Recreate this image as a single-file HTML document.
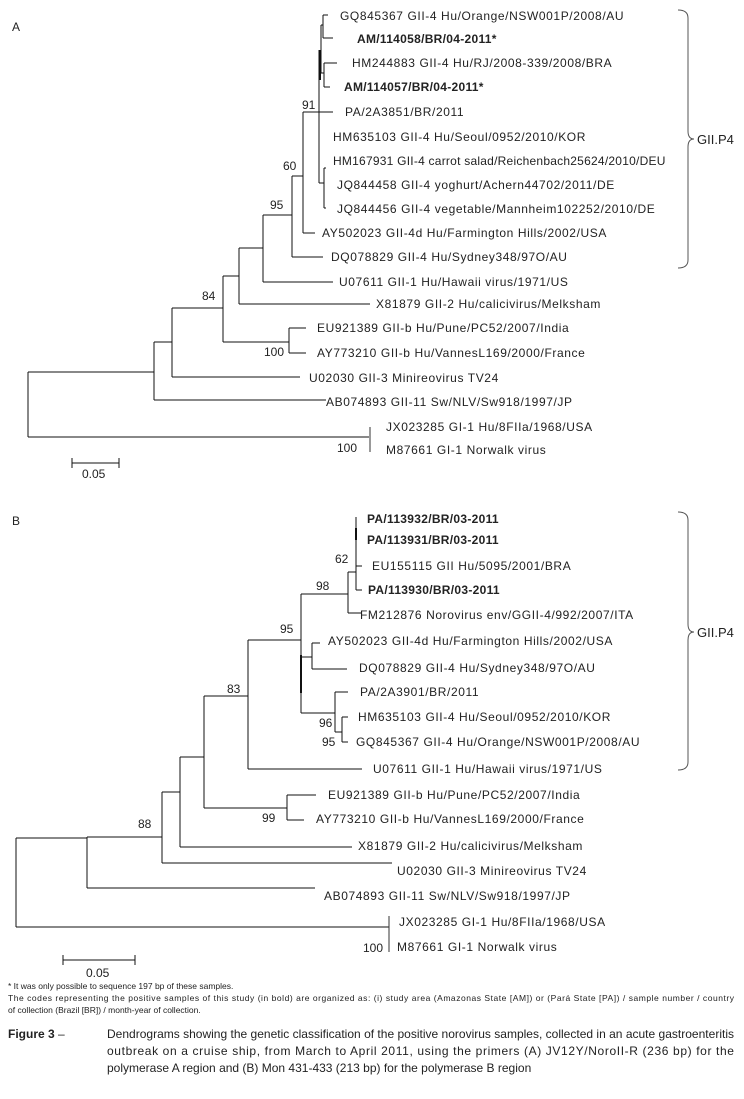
<!DOCTYPE html>
<html><head><meta charset="utf-8"><style>
html,body{margin:0;padding:0;background:#fff;}
svg{display:block;}
text{font-family:"Liberation Sans",sans-serif;fill:#222;}
.l{font-size:12px;letter-spacing:0.6px;}
.b{font-weight:bold;letter-spacing:0.3px;}
.n{font-size:12px;}
.cap{font-size:12px;}
.fn{font-size:8.5px;}
</style></head><body>
<svg width="744" height="1099" viewBox="0 0 744 1099" xmlns="http://www.w3.org/2000/svg">
<g stroke="#111" stroke-width="1" fill="none">
<!-- Tree A -->
<path d="M28 372V437M28 372H154M28 437H370"/>
<path d="M154 342V400M154 400H326M154 342H172"/>
<path d="M172 308V377M172 377H300M172 308H223"/>
<path d="M223 276V342M223 342H289M223 276H239"/>
<path d="M289 328V353M289 328H306M289 353H306"/>
<path d="M239 248V304M239 304H370M239 248H263"/>
<path d="M263 215V282M263 282H333M263 215H292"/>
<path d="M292 176V257M292 257H323M292 176H303"/>
<path d="M303 112V233M303 233H315M303 112H319"/>
<path d="M319 50V183M319 112H333"/>
<path d="M319 183H324M324 168V208M324 168H326M324 208H326"/>
<path d="M321 25V73M319 55H321"/>
<path d="M323 15V38M321 25H323M323 15H328M323 38H333"/>
<path d="M324 63V87M321 73H324M324 63H337M324 87H330"/>
<path d="M320 50V80" stroke-width="2"/>
<path d="M72 458V468M72 463H119M119 458V468"/>
<path d="M370 427V452" stroke="#999" stroke-width="2"/>
<!-- brace A -->
<path d="M678 10Q688 10 688 18V131Q688 139 694 139Q688 139 688 147V260Q688 268 678 268" stroke="#555"/>
<!-- Tree B -->
<path d="M16 838V927M16 927H389M16 838H87"/>
<path d="M87 837V888M87 888H315M87 837H162"/>
<path d="M162 792V863M162 863H392M162 792H180"/>
<path d="M180 757V847M180 847H352M180 757H204"/>
<path d="M204 696V808M204 808H287M204 696H248"/>
<path d="M287 795V820M287 795H316M287 820H304"/>
<path d="M248 640V769M248 769H362M248 640H301"/>
<path d="M301 594V713M301 594H348M301 713H335M301 657H312"/>
<path d="M301 655V693" stroke-width="2"/>
<path d="M312 643V669M312 643H320M312 669H347"/>
<path d="M335 692V732M335 692H348M335 732H342"/>
<path d="M342 717V742M342 717H348M342 742H348"/>
<path d="M348 572V613M348 613H362M348 572H356"/>
<path d="M356 517V590M356 566H362M356 590H362"/>
<path d="M356 528V540" stroke-width="2"/>
<path d="M63 955V965M63 960H135M135 955V965"/>
<path d="M389 916V952" stroke="#333"/>
<!-- brace B -->
<path d="M678 512Q688 512 688 520V624Q688 632 694 632Q688 632 688 640V762Q688 770 678 770" stroke="#555"/>
</g>
<text x="12" y="31" class="n">A</text>
<text x="12" y="525" class="n">B</text>
<g class="l">
<text x="340" y="20">GQ845367 GII-4 Hu/Orange/NSW001P/2008/AU</text>
<text x="357" y="43" class="b">AM/114058/BR/04-2011*</text>
<text x="352" y="67">HM244883 GII-4 Hu/RJ/2008-339/2008/BRA</text>
<text x="344" y="91" class="b">AM/114057/BR/04-2011*</text>
<text x="345" y="116">PA/2A3851/BR/2011</text>
<text x="333" y="141">HM635103 GII-4 Hu/Seoul/0952/2010/KOR</text>
<text x="333" y="165" textLength="333" lengthAdjust="spacing">HM167931 GII-4 carrot salad/Reichenbach25624/2010/DEU</text>
<text x="337" y="189">JQ844458 GII-4 yoghurt/Achern44702/2011/DE</text>
<text x="337" y="213">JQ844456 GII-4 vegetable/Mannheim102252/2010/DE</text>
<text x="322" y="237">AY502023 GII-4d Hu/Farmington Hills/2002/USA</text>
<text x="331" y="261">DQ078829 GII-4 Hu/Sydney348/97O/AU</text>
<text x="339" y="286">U07611 GII-1 Hu/Hawaii virus/1971/US</text>
<text x="376" y="308">X81879 GII-2 Hu/calicivirus/Melksham</text>
<text x="317" y="332">EU921389 GII-b Hu/Pune/PC52/2007/India</text>
<text x="317" y="357">AY773210 GII-b Hu/VannesL169/2000/France</text>
<text x="309" y="382">U02030 GII-3 Minireovirus TV24</text>
<text x="326" y="406">AB074893 GII-11 Sw/NLV/Sw918/1997/JP</text>
<text x="386" y="431">JX023285 GI-1 Hu/8FIIa/1968/USA</text>
<text x="386" y="454">M87661 GI-1 Norwalk virus</text>

<text x="367" y="523" class="b">PA/113932/BR/03-2011</text>
<text x="367" y="544" class="b">PA/113931/BR/03-2011</text>
<text x="372" y="570">EU155115 GII Hu/5095/2001/BRA</text>
<text x="368" y="594" class="b">PA/113930/BR/03-2011</text>
<text x="360" y="619">FM212876 Norovirus env/GGII-4/992/2007/ITA</text>
<text x="328" y="645">AY502023 GII-4d Hu/Farmington Hills/2002/USA</text>
<text x="359" y="672">DQ078829 GII-4 Hu/Sydney348/97O/AU</text>
<text x="360" y="696">PA/2A3901/BR/2011</text>
<text x="358" y="721">HM635103 GII-4 Hu/Seoul/0952/2010/KOR</text>
<text x="356" y="746">GQ845367 GII-4 Hu/Orange/NSW001P/2008/AU</text>
<text x="373" y="773">U07611 GII-1 Hu/Hawaii virus/1971/US</text>
<text x="328" y="799">EU921389 GII-b Hu/Pune/PC52/2007/India</text>
<text x="316" y="823">AY773210 GII-b Hu/VannesL169/2000/France</text>
<text x="358" y="850">X81879 GII-2 Hu/calicivirus/Melksham</text>
<text x="397" y="875">U02030 GII-3 Minireovirus TV24</text>
<text x="324" y="900">AB074893 GII-11 Sw/NLV/Sw918/1997/JP</text>
<text x="399" y="926">JX023285 GI-1 Hu/8FIIa/1968/USA</text>
<text x="397" y="951">M87661 GI-1 Norwalk virus</text>
</g>
<g class="n">
<text x="302" y="109">91</text>
<text x="283" y="170">60</text>
<text x="270" y="209">95</text>
<text x="202" y="300">84</text>
<text x="264" y="356">100</text>
<text x="337" y="452">100</text>
<text x="82" y="478" class="n">0.05</text>
<text x="335" y="563">62</text>
<text x="316" y="590">98</text>
<text x="280" y="633">95</text>
<text x="227" y="693">83</text>
<text x="319" y="727">96</text>
<text x="322" y="746">95</text>
<text x="262" y="822">99</text>
<text x="138" y="828">88</text>
<text x="363" y="952">100</text>
<text x="86" y="977">0.05</text>
<text x="697" y="144" style="font-size:13px">GII.P4</text>
<text x="697" y="637" style="font-size:13px">GII.P4</text>
</g>
<g class="fn">
<text x="8" y="989">* It was only possible to sequence 197 bp of these samples.</text>
<text x="8" y="1001" textLength="726" lengthAdjust="spacing">The codes representing the positive samples of this study (in bold) are organized as: (i) study area (Amazonas State [AM]) or (Pará State [PA]) / sample number / country</text>
<text x="8" y="1013">of collection (Brazil [BR]) / month-year of collection.</text>
</g>
<g class="cap">
<text x="8" y="1038"><tspan font-weight="bold">Figure 3</tspan> – </text>
<text x="107" y="1038" textLength="627" lengthAdjust="spacing">Dendrograms showing the genetic classification of the positive norovirus samples, collected in an acute gastroenteritis</text>
<text x="107" y="1055" textLength="627" lengthAdjust="spacing">outbreak on a cruise ship, from March to April 2011, using the primers (A) JV12Y/NoroII-R (236 bp) for the</text>
<text x="107" y="1072">polymerase A region and (B) Mon 431-433 (213 bp) for the polymerase B region</text>
</g>
</svg>
</body></html>
